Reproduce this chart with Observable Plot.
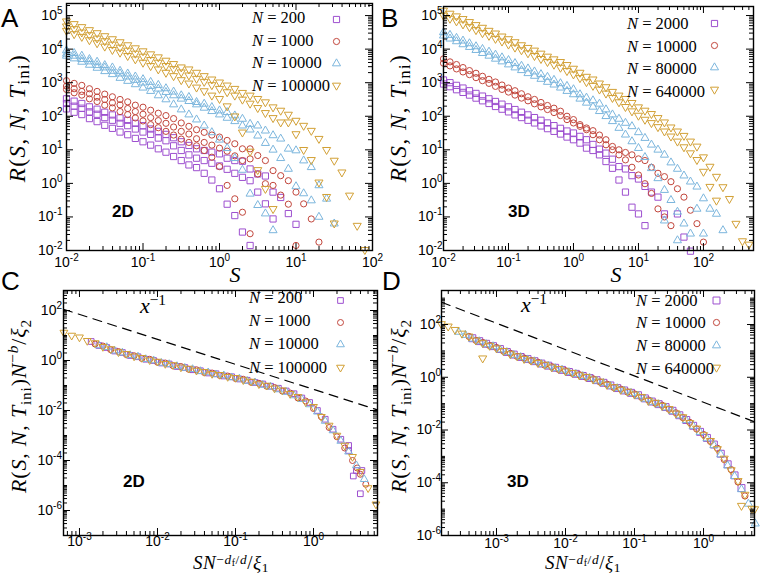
<!DOCTYPE html>
<html><head><meta charset="utf-8">
<script src="https://cdn.jsdelivr.net/npm/d3@7"></script>
<script src="https://cdn.jsdelivr.net/npm/@observablehq/plot@0.6"></script>
<style>
html,body{margin:0;padding:0;background:#fff;}
#fig{position:relative;width:762px;height:574px;overflow:hidden;background:#fff;}
.panel{position:absolute;}
.lab{position:absolute;white-space:nowrap;line-height:1;color:#000;}
.math{font-family:"Liberation Serif","DejaVu Serif",serif;}
.math sub{font-size:0.7em;vertical-align:-0.3em;line-height:0;}
.math sup{font-size:0.7em;vertical-align:0.55em;line-height:0;}
.math sup sub{font-size:0.75em;vertical-align:-0.25em;}
.xl sup{vertical-align:0.4em;}
.sans{font-family:"Liberation Sans",Arial,sans-serif;}
</style></head>
<body><div id="fig"></div>
<script>
// ---------- DATA (log10 values) ----------
const binsAB = [-2.0,-1.9,-1.8,-1.7,-1.6,-1.5,-1.4,-1.3,-1.2,-1.1,-1.0,-0.9,-0.8,-0.7,-0.6,-0.5,-0.4,-0.3,-0.2,-0.1,0.0,0.1,0.2,0.3,0.4,0.5,0.6,0.7,0.8,0.9,1.0,1.1,1.2,1.3,1.4,1.5,1.6,1.7,1.8,1.9,2.0,2.1,2.2,2.3,2.4,2.5,2.6,2.7];

// Panel A (2D): log10 R per bin, several T_ini curves per N
const A_N200 = [
 [2.52,2.45,2.38,2.28,2.21,2.12,2.04,1.95,1.88,1.79,1.72,1.62,1.55,1.46,1.36,1.24,1.13,1.03,0.98,0.93,0.88,0.75,0.68,0.66,0.43,0.28,0.22,-0.26,-0.42,-0.9,-1.22],
 [2.38,2.3,2.24,2.13,2.06,1.96,1.88,1.79,1.72,1.62,1.53,1.46,1.35,1.27,1.12,0.98,0.85,0.75,0.68,0.6,0.52,0.42,0.3,0.18,0.08,-0.26,-0.61,-1.06],
 [2.22,2.12,2.05,1.93,1.84,1.73,1.64,1.53,1.45,1.34,1.24,1.14,1.03,0.93,0.8,0.68,0.55,0.47,0.3,0.1,-0.16,-0.62,-0.96,-1.45,-1.85]
];
const A_N1000 = [
 [3.06,2.98,2.92,2.82,2.74,2.66,2.58,2.5,2.43,2.33,2.27,2.18,2.09,2.02,1.93,1.8,1.7,1.6,1.52,1.44,1.38,1.28,1.18,1.03,1.03,0.83,0.68,0.38,0.23,0.08,-0.26,-0.61,-1.06,-1.75],
 [2.9,2.82,2.74,2.67,2.57,2.5,2.4,2.34,2.23,2.14,2.06,1.96,1.87,1.79,1.68,1.55,1.47,1.33,1.22,1.14,1.05,0.96,0.82,0.68,0.73,0.28,-0.01,-0.06,-0.35,-0.62,-1.85],
 [2.8,2.7,2.63,2.52,2.44,2.33,2.25,2.14,2.05,1.95,1.86,1.75,1.66,1.55,1.44,1.32,1.22,1.12,0.98,0.78,0.5,-0.06,-0.46,-0.86,-1.5]
];
const A_N10000 = [
 [3.96,3.88,3.8,3.7,3.62,3.52,3.45,3.35,3.27,3.18,3.1,3.02,2.93,2.83,2.73,2.62,2.57,2.42,2.37,2.27,2.17,2.12,2.02,1.92,1.77,1.72,1.57,1.43,1.33,1.03,0.98,0.68,0.48,-0.06,-0.46,-1.2],
 [3.86,3.8,3.7,3.63,3.52,3.45,3.35,3.27,3.18,3.08,3.0,2.9,2.82,2.72,2.62,2.52,2.45,2.35,2.25,2.15,2.05,1.95,1.85,1.72,1.6,1.42,1.2,1.0,0.75,0.43,-0.09,-0.3,-0.51,-1.0],
 [3.8,3.72,3.62,3.53,3.44,3.34,3.25,3.14,3.05,2.95,2.85,2.75,2.62,2.5,2.35,2.2,2.05,1.9,1.72,1.52,1.3,1.05,0.75,0.4,-0.31,-0.65,-0.9,-1.4]
];
const A_N100000 = [
 [4.83,4.75,4.66,4.57,4.48,4.39,4.3,4.21,4.12,4.03,3.94,3.85,3.76,3.66,3.56,3.46,3.4,3.3,3.2,3.1,3.01,2.92,2.82,2.7,2.62,2.52,2.42,2.27,2.17,2.05,1.87,1.72,1.57,1.33,1.0,0.68,0.33,-0.36,-1.26,-1.98],
 [4.68,4.6,4.5,4.42,4.32,4.24,4.14,4.05,3.96,3.87,3.78,3.68,3.6,3.5,3.41,3.31,3.22,3.12,3.03,2.93,2.82,2.72,2.62,2.5,2.38,2.25,2.1,1.95,1.82,1.82,1.47,1.0,0.7,0.03,-0.4,-1.19],
 [4.55,4.45,4.37,4.27,4.18,4.08,3.98,3.9,3.8,3.7,3.6,3.5,3.4,3.3,3.2,3.08,2.98,2.86,2.75,2.62,2.52,2.3,2.0,1.52,0.95,0.4,-0.16,-0.76]
];

// Panel B (3D)
const B_N2000 = [
 [3.08,3.0,2.92,2.84,2.76,2.68,2.6,2.52,2.44,2.36,2.28,2.2,2.12,2.04,1.96,1.88,1.8,1.72,1.64,1.56,1.5,1.4,1.3,1.16,1.02,0.9,0.72,0.5,0.43,0.23,0.13,-0.09,-0.26,-0.41,-0.91],
 [2.96,2.88,2.79,2.71,2.63,2.54,2.46,2.38,2.29,2.21,2.13,2.04,1.96,1.88,1.8,1.71,1.63,1.55,1.47,1.38,1.3,1.2,1.05,0.98,0.85,0.65,0.45,0.1,-0.26,-0.71,-0.91,-1.26]
];
const B_N2000_extra = [[1.6,-0.91],[1.7,-1.6],[1.8,-2.02]];
const B_N10000 = [
 [3.71,3.62,3.54,3.45,3.36,3.28,3.19,3.1,3.02,2.93,2.84,2.76,2.67,2.58,2.5,2.41,2.32,2.24,2.15,2.0,1.9,1.75,1.65,1.57,1.44,1.3,1.1,1.0,0.92,0.85,0.73,0.68,0.48,0.3,0.2,0.05,-0.16,-0.41,-0.8,-1.2,-1.75],
 [3.58,3.5,3.41,3.32,3.24,3.15,3.06,2.98,2.89,2.8,2.72,2.63,2.54,2.46,2.37,2.28,2.2,2.11,2.02,1.9,1.8,1.7,1.6,1.45,1.3,1.15,1.0,0.85,0.7,0.48,0.25,-0.01,-0.3,-0.76,-1.0,-1.26]
];
const B_N80000 = [
 [4.5,4.42,4.33,4.25,4.17,4.08,4.0,3.92,3.83,3.75,3.67,3.58,3.5,3.42,3.33,3.25,3.17,3.08,2.98,2.9,2.8,2.65,2.55,2.47,2.37,2.2,2.05,1.92,1.8,1.7,1.52,1.35,1.15,1.0,0.85,0.62,0.43,0.23,0.05,-0.1,-0.45,-0.76,-0.91,-1.4],
 [4.4,4.31,4.23,4.14,4.06,3.97,3.88,3.8,3.71,3.63,3.54,3.45,3.37,3.28,3.2,3.11,3.02,2.94,2.85,2.75,2.65,2.52,2.4,2.28,2.15,2.0,1.85,1.65,1.45,1.25,1.05,0.78,0.45,0.15,-0.2,-0.5,-0.85,-1.2,-1.5]
];
const B_N80000_extra = [[1.4,-1.11],[1.6,-1.7],[1.9,-0.76],[2.0,-1.5]];
const B_N640000 = [
 [5.15,5.06,4.98,4.9,4.81,4.72,4.64,4.55,4.47,4.38,4.3,4.21,4.12,4.04,3.96,3.87,3.78,3.7,3.62,3.53,3.42,3.3,3.18,3.1,2.98,2.87,2.73,2.62,2.52,2.4,2.27,2.17,2.07,1.95,1.82,1.67,1.55,1.42,1.25,1.1,0.78,0.5,0.2,-0.11,-0.46,-1.2,-1.72,-1.82],
 [5.0,4.91,4.83,4.74,4.66,4.57,4.48,4.4,4.31,4.23,4.14,4.05,3.97,3.88,3.8,3.71,3.62,3.54,3.45,3.35,3.25,3.14,3.02,2.91,2.8,2.68,2.55,2.42,2.28,2.15,2.02,1.9,1.8,1.68,1.55,1.4,1.25,1.08,0.9,0.7,0.35,-0.1,-0.51]
];

// Panel C (2D collapse): log10 of scaled x and y
const binsC1 = [-3.2,-3.1,-3.0,-2.9,-2.8,-2.7,-2.6,-2.5,-2.4,-2.3,-2.2,-2.1,-2.0,-1.9,-1.8,-1.7,-1.6,-1.5,-1.4,-1.3,-1.2,-1.1,-1.0,-0.9,-0.8,-0.7,-0.6,-0.5,-0.4,-0.3,-0.2,-0.1,0.0,0.1,0.2,0.3,0.4,0.5,0.6,0.7,0.8];
const binsC2 = [-3.15,-3.05,-2.95,-2.85,-2.75,-2.65,-2.55,-2.45,-2.35,-2.25,-2.15,-2.05,-1.95,-1.85,-1.75,-1.65,-1.55,-1.45,-1.35,-1.25,-1.15,-1.05,-0.95,-0.85,-0.75,-0.65,-0.55,-0.45,-0.35,-0.25,-0.15,-0.05,0.05,0.15,0.25,0.35,0.45,0.55,0.65,0.75];
const C_N200 = [null,null,null,0.76,0.6,0.52,0.38,0.32,0.2,0.15,0.05,0.0,-0.1,-0.14,-0.24,-0.28,-0.37,-0.41,-0.5,-0.53,-0.62,-0.65,-0.74,-0.79,-0.88,-0.94,-1.03,-1.11,-1.22,-1.33,-1.5,-1.68,-2.0,-2.35,-2.75,-3.15,-3.6,-4.4];
const C_N200_extra = [[0.51,-4.62],[0.62,-4.4],[0.6,-5.33],[0.45,-3.4]];
const C_N1000 = [null,null,null,null,0.66,0.58,0.43,0.36,0.24,0.19,0.08,0.05,-0.07,-0.1,-0.21,-0.24,-0.35,-0.37,-0.48,-0.5,-0.6,-0.62,-0.72,-0.75,-0.87,-0.91,-1.03,-1.08,-1.22,-1.3,-1.5,-1.62,-1.92,-2.25,-2.68,-3.05,-3.5,-4.0,-4.55];
const C_N1000_extra = [[0.67,-4.95],[0.56,-4.3]];
const C_N10000 = [null,null,null,null,0.6,0.53,0.39,0.31,0.21,0.15,0.05,0.0,-0.1,-0.15,-0.23,-0.3,-0.35,-0.43,-0.48,-0.56,-0.6,-0.68,-0.73,-0.82,-0.88,-0.98,-1.05,-1.16,-1.26,-1.4,-1.55,-1.76,-2.05,-2.42,-2.8,-3.22,-3.65,-4.2,-4.75];
const C_N100000 = [1.12,1.0,0.93,0.79,0.7,0.55,0.46,0.34,0.27,0.17,0.11,0.02,-0.04,-0.13,-0.18,-0.27,-0.32,-0.4,-0.45,-0.53,-0.57,-0.65,-0.69,-0.78,-0.84,-0.94,-1.0,-1.11,-1.19,-1.33,-1.45,-1.66,-1.85,-2.25,-2.6,-3.0,-3.4,-3.85,-4.45,-5.1,-5.75];

// Panel D (3D collapse)
const binsD1 = [-3.8,-3.7,-3.6,-3.5,-3.4,-3.3,-3.2,-3.1,-3.0,-2.9,-2.8,-2.7,-2.6,-2.5,-2.4,-2.3,-2.2,-2.1,-2.0,-1.9,-1.8,-1.7,-1.6,-1.5,-1.4,-1.3,-1.2,-1.1,-1.0,-0.9,-0.8,-0.7,-0.6,-0.5,-0.4,-0.3,-0.2,-0.1,0.0,0.1,0.2,0.3,0.4,0.5,0.6,0.7];
const binsD2 = [-3.75,-3.65,-3.55,-3.45,-3.35,-3.25,-3.15,-3.05,-2.95,-2.85,-2.75,-2.65,-2.55,-2.45,-2.35,-2.25,-2.15,-2.05,-1.95,-1.85,-1.75,-1.65,-1.55,-1.45,-1.35,-1.25,-1.15,-1.05,-0.95,-0.85,-0.75,-0.65,-0.55,-0.45,-0.35,-0.25,-0.15,-0.05,0.05,0.15,0.25,0.35,0.45,0.55,0.65,0.75];
const D_N2000 = [null,null,null,null,1.48,1.37,1.27,1.18,1.07,0.96,0.86,0.77,0.69,0.61,0.52,0.44,0.36,0.28,0.2,0.13,0.05,-0.03,-0.11,-0.21,-0.31,-0.41,-0.5,-0.59,-0.68,-0.8,-0.92,-1.02,-1.13,-1.27,-1.44,-1.62,-1.84,-2.07,-2.3,-2.55,-2.9,-3.3,-3.72,-4.2];
const D_N10000 = [null,null,null,null,1.55,1.4,1.32,1.2,1.13,0.99,0.91,0.79,0.73,0.63,0.57,0.46,0.4,0.3,0.25,0.15,0.1,0.0,-0.06,-0.18,-0.26,-0.39,-0.45,-0.56,-0.63,-0.76,-0.86,-0.98,-1.06,-1.21,-1.35,-1.53,-1.71,-1.96,-2.17,-2.43,-2.69,-3.12,-3.5,-3.97,-4.5];
const D_N80000 = [null,null,1.72,1.6,1.46,1.36,1.25,1.17,1.05,0.95,0.84,0.76,0.67,0.6,0.5,0.43,0.34,0.28,0.19,0.12,0.04,-0.03,-0.13,-0.22,-0.33,-0.42,-0.51,-0.6,-0.7,-0.82,-0.94,-1.03,-1.15,-1.29,-1.45,-1.63,-1.85,-2.08,-2.32,-2.58,-2.93,-3.35,-3.75,-4.25,-4.8,-5.55];
const D_N640000 = [2.02,1.93,1.8,1.66,1.55,1.4,1.3,1.2,1.1,1.0,0.88,0.8,0.7,0.64,0.55,0.48,0.38,0.32,0.23,0.17,0.08,0.02,-0.08,-0.16,-0.28,-0.37,-0.47,-0.54,-0.65,-0.74,-0.89,-0.96,-1.08,-1.2,-1.37,-1.51,-1.73,-1.94,-2.19,-2.41,-2.72,-3.08,-3.52,-3.93,-4.45,-4.98];
const D_N640000_extra = [[-3.2,0.72],[0.55,-4.87],[0.74,-5.0]];

// x^-1 guide lines (x, y endpoints)
const guideC = {x:[6.24e-4, 6.61], y:[112, 0.0106]};
const guideD = {x:[1.6e-4, 5.48], y:[700, 0.0205]};

// legend labels
const legend2D_A = ["200","1000","10000","100000"];
const legend3D_B = ["2000","10000","80000","640000"];

// tick labels
const xTicksAB = [1e-2,1e-1,1,1e1,1e2];
const yTicksAB = [1e-2,1e-1,1,1e1,1e2,1e3,1e4,1e5];
const xTicksCD = [1e-3,1e-2,1e-1,1];
const yTicksCD = [1e-6,1e-4,1e-2,1,1e2];

// ---------- STYLE ----------
const COLORS = ["#9d4fcf","#c2463c","#7cb6dd","#d2a035"];
const downTriangle = {draw(ctx, size){const y=-Math.sqrt(size/(Math.sqrt(3)*3)); ctx.moveTo(0,-2*y); ctx.lineTo(-Math.sqrt(3)*y,y); ctx.lineTo(Math.sqrt(3)*y,y); ctx.closePath();}};
const SYMBOLS = ["square","circle","triangle",downTriangle];

function rows(bins, vals){const out=[]; vals.forEach((v,i)=>{if(v!=null) out.push({x:10**bins[i], y:10**v});}); return out;}
function extraRows(list){return (list||[]).map(([a,b])=>({x:10**a,y:10**b}));}

function logTicks(dom, majorEvery){
  const lo=Math.log10(dom[0]), hi=Math.log10(dom[1]); const major=[], minor=[];
  for(let e=Math.floor(lo)-1;e<=Math.ceil(hi)+1;e++){
    for(let k=1;k<10;k++){
      const v=k*Math.pow(10,e), lv=Math.log10(v);
      if(lv<lo-1e-9||lv>hi+1e-9) continue;
      if(k===1 && (((e%majorEvery)+majorEvery)%majorEvery===0)) major.push(v); else minor.push(v);
    }
  }
  return {major, minor};
}

const fmt = d => "10^" + Math.round(Math.log10(d));
const fig = document.getElementById("fig");
const TICKFONT = 14;

function panel(cfg){
  const W=381,H=287;
  const iw=W-cfg.ml-cfg.mr, ih=H-cfg.mt-cfg.mb;
  const marks=[];
  cfg.series.forEach((s,j)=>{
    let data=[];
    s.curves.forEach(c=>{data=data.concat(rows(c.bins,c.vals));});
    data=data.concat(extraRows(s.extra));
    marks.push(Plot.dot(data,{x:"x",y:"y",symbol:SYMBOLS[j],r:cfg.r[j],stroke:COLORS[j],fill:"none",strokeWidth:1}));
  });
  if(cfg.guide){
    const g=cfg.guide.x.map((x,i)=>({x, y:cfg.guide.y[i]}));
    marks.push(Plot.line(g,{x:"x",y:"y",stroke:"black",strokeWidth:1.2,strokeDasharray:"9,6.5"}));
  }
  const xt=logTicks(cfg.xdom,1), yt=logTicks(cfg.ydom,cfg.yEvery);
  const MJ=7, MN=4;
  marks.push(
    Plot.tickX(xt.major,{x:d=>d,insetTop:ih-MJ,stroke:"black"}),
    Plot.tickX(xt.major,{x:d=>d,insetBottom:ih-MJ,stroke:"black"}),
    Plot.tickX(xt.minor,{x:d=>d,insetTop:ih-MN,stroke:"black"}),
    Plot.tickX(xt.minor,{x:d=>d,insetBottom:ih-MN,stroke:"black"}),
    Plot.tickY(yt.major,{y:d=>d,insetRight:iw-MJ,stroke:"black"}),
    Plot.tickY(yt.major,{y:d=>d,insetLeft:iw-MJ,stroke:"black"}),
    Plot.tickY(yt.minor,{y:d=>d,insetRight:iw-MN,stroke:"black"}),
    Plot.tickY(yt.minor,{y:d=>d,insetLeft:iw-MN,stroke:"black"}),
    Plot.frame({stroke:"black",strokeWidth:1.4}),
    Plot.axisX(cfg.xLabels,{anchor:"bottom",tickSize:0,tickPadding:cfg.xPad,tickFormat:fmt,label:null,fontSize:TICKFONT}),
    Plot.axisY(cfg.yLabels,{anchor:"left",tickSize:0,tickPadding:cfg.yPad,tickFormat:fmt,label:null,fontSize:TICKFONT})
  );
  cfg.legendMarkers.forEach((m,j)=>{
    marks.push(Plot.dot([0],{frameAnchor:"top-left",dx:m[0]-cfg.left-cfg.ml,dy:m[1]-cfg.top-cfg.mt,symbol:SYMBOLS[j],r:cfg.r[j],stroke:COLORS[j],fill:"none",strokeWidth:1}));
  });
  const svg=Plot.plot({width:W,height:H,marginLeft:cfg.ml,marginRight:cfg.mr,marginTop:cfg.mt,marginBottom:cfg.mb,
    x:{type:"log",domain:cfg.xdom,label:null},
    y:{type:"log",domain:cfg.ydom,label:null},
    style:{fontFamily:"'Liberation Sans',Arial,sans-serif",fontSize:TICKFONT+"px",background:"transparent",overflow:"visible",color:"black"},
    marks});
  svg.querySelectorAll("text").forEach(t=>{
    const m=/^10\^(-?\d+)$/.exec(t.textContent); if(!m) return;
    t.textContent="";
    t.setAttribute("font-size",TICKFONT);
    const a=document.createElementNS("http://www.w3.org/2000/svg","tspan"); a.textContent="10"; t.appendChild(a);
    const b=document.createElementNS("http://www.w3.org/2000/svg","tspan"); b.textContent=m[1]; b.setAttribute("dy","-0.6em"); b.setAttribute("font-size","10px"); t.appendChild(b);
  });
  const wrap=document.createElement("div"); wrap.className="panel"; wrap.style.left=cfg.left+"px"; wrap.style.top=cfg.top+"px";
  wrap.appendChild(svg); fig.appendChild(wrap);
  cfg.legendText.forEach((lbl,j)=>{
    addLab('<i>N</i>&nbsp;=&nbsp;'+lbl,{left:cfg.legendX+"px",top:cfg.legendRows[j]+"px",fontSize:"16.5px",transform:"translateY(-50%)"},"math");
  });
}

function addLab(html, style, cls){const d=document.createElement("div"); d.className="lab "+(cls||""); d.innerHTML=html; Object.assign(d.style,style); fig.appendChild(d); return d;}

const rAB=[3.5,3.1,3.0,3.0];
panel({left:0,top:0,ml:66,mr:9,mt:3,mb:37,xdom:[1e-2,1e2],ydom:[1e-2,2.29e5],yEvery:1,r:rAB,
  xLabels:xTicksAB,yLabels:yTicksAB,xPad:7,yPad:4,
  series:[
    {curves:A_N200.map(v=>({bins:binsAB,vals:v}))},
    {curves:A_N1000.map(v=>({bins:binsAB,vals:v}))},
    {curves:A_N10000.map(v=>({bins:binsAB,vals:v}))},
    {curves:A_N100000.map(v=>({bins:binsAB,vals:v}))}],
  legendMarkers:[[336,19],[336,41],[336,63],[336,85]],legendText:legend2D_A,legendX:252,legendRows:[18,41,63,86]});
panel({left:381,top:0,ml:62,mr:9,mt:6,mb:37,xdom:[1e-2,589],ydom:[1e-2,1.86e5],yEvery:1,r:rAB,
  xLabels:xTicksAB,yLabels:yTicksAB,xPad:7,yPad:1,
  series:[
    {curves:B_N2000.map(v=>({bins:binsAB,vals:v})),extra:B_N2000_extra},
    {curves:B_N10000.map(v=>({bins:binsAB,vals:v}))},
    {curves:B_N80000.map(v=>({bins:binsAB,vals:v})),extra:B_N80000_extra},
    {curves:B_N640000.map(v=>({bins:binsAB,vals:v}))}],
  legendMarkers:[[714,23],[714,45],[714,67],[714,89]],legendText:legend3D_B,legendX:627,legendRows:[24,47,69,92]});
panel({left:0,top:287,ml:63,mr:4,mt:3,mb:39,xdom:[6.24e-4,6.61],ydom:[1e-7,631],yEvery:2,r:[3.2,3.0,2.9,2.9],
  xLabels:xTicksCD,yLabels:yTicksCD,xPad:1,yPad:1.5,guide:guideC,
  series:[
    {curves:[{bins:binsC2,vals:C_N200}],extra:C_N200_extra},
    {curves:[{bins:binsC1,vals:C_N1000}],extra:C_N1000_extra},
    {curves:[{bins:binsC2,vals:C_N10000}]},
    {curves:[{bins:binsC1,vals:C_N100000}]}],
  legendMarkers:[[340,300],[340,322],[340,344],[340,367]],legendText:legend2D_A,legendX:249,legendRows:[298,321,344,368]});
panel({left:381,top:287,ml:60,mr:8,mt:3,mb:39,xdom:[1.596e-4,5.48],ydom:[1e-6,1950],yEvery:2,r:[3.9,3.1,3.0,3.0],
  xLabels:xTicksCD,yLabels:yTicksCD,xPad:2.5,yPad:0.5,guide:guideD,
  series:[
    {curves:[{bins:binsD2,vals:D_N2000}]},
    {curves:[{bins:binsD1,vals:D_N10000}]},
    {curves:[{bins:binsD2,vals:D_N80000}]},
    {curves:[{bins:binsD1,vals:D_N640000}],extra:D_N640000_extra}],
  legendMarkers:[[716,300],[716,322],[716,345],[716,367]],legendText:legend3D_B,legendX:636,legendRows:[301,323,346,369]});

// ---------- TEXT LABELS ----------
[["A",1,5],["B",381,5],["C",1,268],["D",382,268]].forEach(([t,x,y])=>addLab(t,{left:x+"px",top:y+"px",fontSize:"26px"},"sans"));
[["2D",112,203],["3D",508,203],["2D",123,473],["3D",507,473]].forEach(([t,x,y])=>addLab(t,{left:x+"px",top:y+"px",fontSize:"17px",fontWeight:"bold"},"sans"));
const yLabAB='<i>R</i>(<i>S</i>, <i>N</i>, <i>T</i><sub>ini</sub>)';
const yLabCD=yLabAB+'<i>N</i><sup>&minus;<i>b</i></sup>/<i>ξ</i><sub>2</sub>';
const xLabCD='<i>SN</i><sup>&minus;<i>d</i><sub>f</sub>/<i>d</i></sup>/<i>ξ</i><sub>1</sub>';
const rotAB={transform:"translate(-50%,-50%) rotate(-90deg)",fontSize:"23px",letterSpacing:"1.5px"};
const rotCD={transform:"translate(-50%,-50%) rotate(-90deg)",fontSize:"22px",letterSpacing:"0.8px"};
addLab(yLabAB,Object.assign({left:"17px",top:"118px"},rotAB),"math");
addLab(yLabAB,Object.assign({left:"398px",top:"118px"},rotAB),"math");
addLab(yLabCD,Object.assign({left:"19px",top:"406px"},rotCD),"math");
addLab(yLabCD,Object.assign({left:"399px",top:"406px"},rotCD),"math");
const ctr={transform:"translate(-50%,-50%)"};
addLab('<i>S</i>',Object.assign({left:"235px",top:"275px",fontSize:"22px"},ctr),"math");
addLab('<i>S</i>',Object.assign({left:"616px",top:"275px",fontSize:"22px"},ctr),"math");
addLab(xLabCD,Object.assign({left:"231px",top:"562px",fontSize:"19px",letterSpacing:"0.6px"},ctr),"math xl");
addLab(xLabCD,Object.assign({left:"583px",top:"562px",fontSize:"19px",letterSpacing:"0.6px"},ctr),"math xl");
addLab('<i>x</i><sup>&minus;1</sup>',Object.assign({left:"153px",top:"306px",fontSize:"22px"},ctr),"math");
addLab('<i>x</i><sup>&minus;1</sup>',Object.assign({left:"534px",top:"305px",fontSize:"22px"},ctr),"math");
</script></body></html>
